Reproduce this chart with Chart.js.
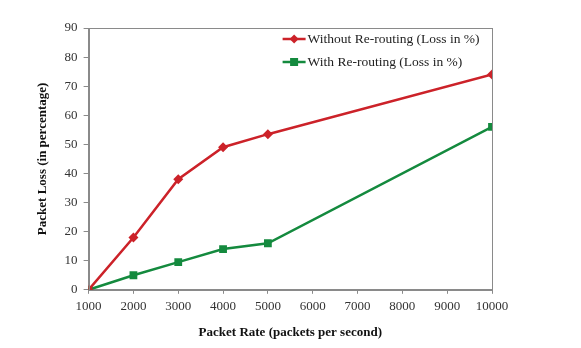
<!DOCTYPE html>
<html>
<head>
<meta charset="utf-8">
<script src="https://cdn.jsdelivr.net/npm/chart.js@4"></script>
<style>
  html, body { margin: 0; padding: 0; background: #fff; }
  #wrap { width: 581px; height: 348px; }
</style>
</head>
<body>
<div id="wrap"><canvas id="lossChart" width="581" height="348"></canvas></div>
<script>
// Data
const packetRates = [1000, 2000, 3000, 4000, 5000, 10000];
const lossWithout = [0, 18, 38, 49, 53.5, 74];
const lossWith = [0, 5, 9.5, 14, 16, 56];
const seriesNames = ['Without Re-routing (Loss in %)', 'With Re-routing (Loss in %)'];
const xTitle = 'Packet Rate (packets per second)';
const yTitle = 'Packet Loss (in percentage)';

const RED = '#cc2229';
const GREEN = '#148a3e';
const SERIF = '"Liberation Serif", "Times New Roman", serif';

function toPoints(values) {
    return packetRates.map((x, i) => ({ x: x, y: values[i] }));
}

// frame round the plot area and legend inside it
const framePlugin = {
    id: 'frame_and_legend',
    afterDraw(chart) {
        const ctx = chart.ctx;
        const a = chart.chartArea;
        ctx.save();
        ctx.strokeStyle = '#8a8a8a';
        ctx.lineWidth = 1;
        ctx.strokeRect(Math.round(a.left) + 0.5, Math.round(a.top) + 0.5,
            Math.round(a.right - a.left), Math.round(a.bottom - a.top));

        const items = [
            { name: seriesNames[0], color: RED, shape: 'diamond' },
            { name: seriesNames[1], color: GREEN, shape: 'square' }
        ];
        ctx.font = '13.5px ' + SERIF;
        ctx.textBaseline = 'middle';
        items.forEach((it, i) => {
            const y = a.top + 11 + i * 23;
            const x0 = a.left + 194;
            ctx.strokeStyle = it.color;
            ctx.lineWidth = 2.5;
            ctx.beginPath();
            ctx.moveTo(x0, y);
            ctx.lineTo(x0 + 23, y);
            ctx.stroke();
            ctx.fillStyle = it.color;
            const cx = x0 + 11.5;
            if (it.shape === 'diamond') {
                ctx.beginPath();
                ctx.moveTo(cx, y - 4.5);
                ctx.lineTo(cx + 4.5, y);
                ctx.lineTo(cx, y + 4.5);
                ctx.lineTo(cx - 4.5, y);
                ctx.closePath();
                ctx.fill();
            } else {
                ctx.fillRect(cx - 4, y - 4, 8, 8);
            }
            ctx.fillStyle = '#222';
            ctx.fillText(it.name, x0 + 25, y);
        });
        ctx.restore();
    }
};

const ctx = document.getElementById('lossChart').getContext('2d');
new Chart(ctx, {
    type: 'line',
    data: {
        datasets: [
            {
                label: seriesNames[0],
                data: toPoints(lossWithout),
                borderColor: RED,
                backgroundColor: RED,
                borderWidth: 2.5,
                pointStyle: 'rectRot',
                pointRadius: 5,
                pointBorderWidth: 0,
                tension: 0
            },
            {
                label: seriesNames[1],
                data: toPoints(lossWith),
                borderColor: GREEN,
                backgroundColor: GREEN,
                borderWidth: 2.5,
                pointStyle: 'rect',
                pointRadius: 5.5,
                pointBorderWidth: 0,
                tension: 0
            }
        ]
    },
    options: {
        responsive: false,
        animation: false,
        layout: { padding: { top: 28, right: 89, left: 31, bottom: 4 } },
        plugins: {
            legend: { display: false },
            tooltip: { enabled: false }
        },
        scales: {
            x: {
                type: 'linear',
                min: 1000,
                max: 10000,
                ticks: {
                    stepSize: 1000,
                    color: '#333',
                    font: { family: SERIF, size: 13 },
                    padding: 5,
                    maxRotation: 0,
                    callback: v => String(v)
                },
                grid: { drawOnChartArea: false, tickLength: 4, color: '#8a8a8a' },
                border: { color: '#8a8a8a' },
                title: {
                    display: true,
                    text: xTitle,
                    color: '#111',
                    font: { family: SERIF, size: 13, weight: 'bold' },
                    padding: { top: 5 }
                }
            },
            y: {
                min: 0,
                max: 90,
                ticks: {
                    stepSize: 10,
                    color: '#333',
                    font: { family: SERIF, size: 13 },
                    padding: 6
                },
                grid: { drawOnChartArea: false, tickLength: 5, color: '#8a8a8a' },
                border: { color: '#8a8a8a' },
                title: {
                    display: true,
                    text: yTitle,
                    color: '#111',
                    font: { family: SERIF, size: 13, weight: 'bold' },
                    padding: { bottom: 8 }
                }
            }
        }
    },
    plugins: [framePlugin]
});
</script>
</body>
</html>
